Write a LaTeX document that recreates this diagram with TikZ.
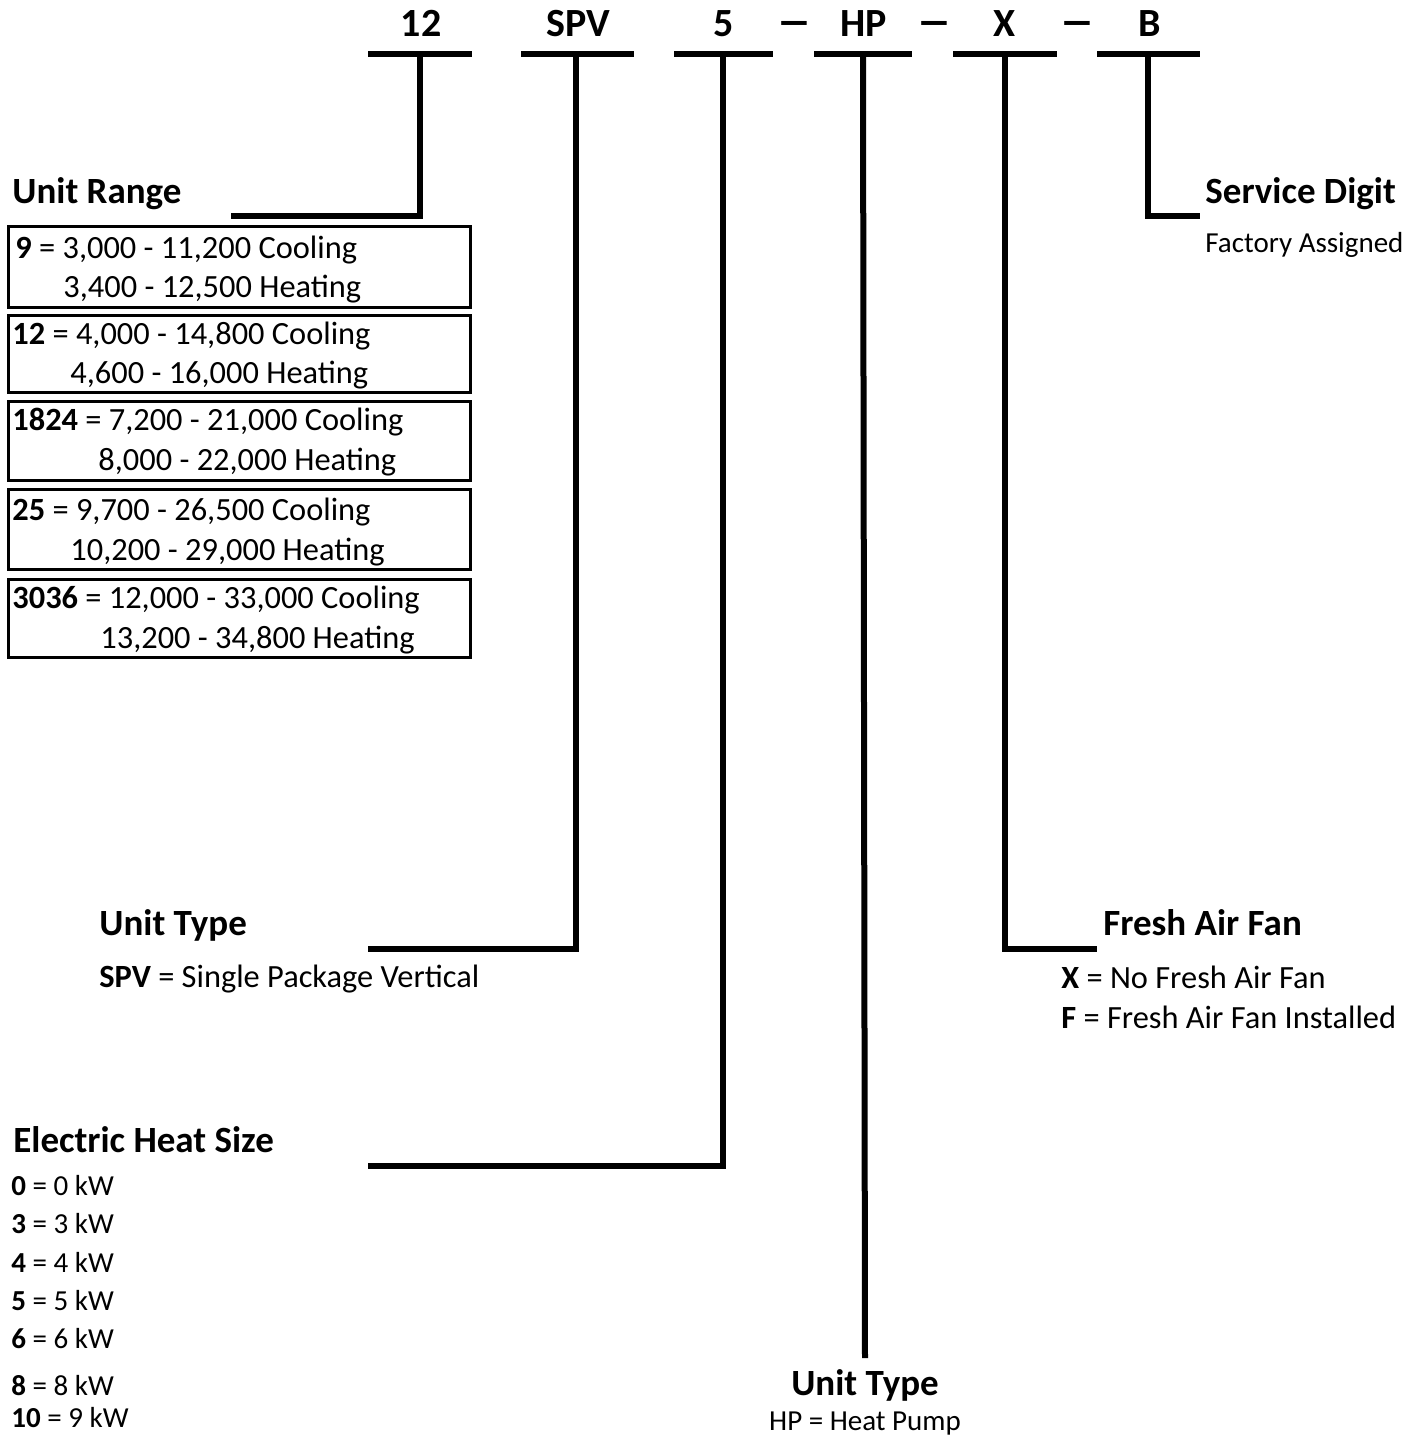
\documentclass[tikz,border=0pt]{standalone}
\usepackage{fontspec}
\setmainfont{Carlito}
\usepackage{tikz}
\usetikzlibrary{positioning}

\newcommand{\widedash}{\scalebox{1.8}[1.15]{\textendash}}

\begin{document}
\begin{tikzpicture}
   [x=0.5pt,y=-0.5pt,
    txt/.style={inner sep=0pt,anchor=base west},
    head/.style={txt,font=\fontsize{18.5}{22}\selectfont\bfseries},
    item/.style={txt,font=\fontsize{16.2}{19}\selectfont},
    small/.style={txt,font=\fontsize{14.5}{17}\selectfont},
    digit/.style={inner sep=0pt,anchor=base,font=\fontsize{20}{24}\selectfont\bfseries},
    bar/.style={line width=3pt},
    lead/.style={line width=3pt},
    rangebox/.style={line width=1.5pt}]
   \useasboundingbox (0,0) rectangle (1424,1437);

   % model number
   \node[digit] (d12) at (421,36) {12};
   \node[digit] (dspv) at (578,36) {SPV};
   \node[digit] (d5) at (724,36) {5};
   \node[digit] (dash1) at (794,36) {\widedash};
   \node[digit] (dhp) at (864,36) {HP};
   \node[digit] (dash2) at (934,36) {\widedash};
   \node[digit] (dx) at (1005,36) {X};
   \node[digit] (dash3) at (1077,36) {\widedash};
   \node[digit] (db) at (1150,36) {B};

   \draw[bar] (368,54) -- (472,54);
   \draw[bar] (521,54) -- (634,54);
   \draw[bar] (674,54) -- (773,54);
   \draw[bar] (814,54) -- (912,54);
   \draw[bar] (953,54) -- (1057,54);
   \draw[bar] (1097,54) -- (1200,54);

   \coordinate (t12) at (420,54);
   \coordinate (tspv) at (576,54);
   \coordinate (t5) at (723,54);
   \coordinate (thp) at (863,54);
   \coordinate (tx) at (1005,54);
   \coordinate (tb) at (1148,54);

   % unit range
   \node[head] (range) at (12,203) {Unit Range};
   \coordinate (e12) at (231,216);
   \draw[lead] (t12) |- (e12);

   \draw[rangebox] (8,226) rectangle (470,307);
   \node[item] (r9a) at (15,258) {\textbf{9} = 3,000 - 11,200 Cooling};
   \node[item] (r9b) at (63,297) {3,400 - 12,500 Heating};
   \draw[rangebox] (8,315) rectangle (470,392);
   \node[item] (r12a) at (12,344) {\textbf{12} = 4,000 - 14,800 Cooling};
   \node[item] (r12b) at (70,383) {4,600 - 16,000 Heating};
   \draw[rangebox] (8,401) rectangle (470,480);
   \node[item] (r18a) at (12,430) {\textbf{1824} = 7,200 - 21,000 Cooling};
   \node[item] (r18b) at (98,470) {8,000 - 22,000 Heating};
   \draw[rangebox] (8,489) rectangle (470,569);
   \node[item] (r25a) at (12,520) {\textbf{25} = 9,700 - 26,500 Cooling};
   \node[item] (r25b) at (70,560) {10,200 - 29,000 Heating};
   \draw[rangebox] (8,579) rectangle (470,657);
   \node[item] (r30a) at (12,608) {\textbf{3036} = 12,000 - 33,000 Cooling};
   \node[item] (r30b) at (100,648) {13,200 - 34,800 Heating};

   % service digit
   \node[head] (serv) at (1205,203) {Service Digit};
   \node[small] (fact) at (1205,252) {Factory Assigned};
   \coordinate (eb) at (1200,216);
   \draw[lead] (tb) |- (eb);

   % unit type
   \node[head] (utype) at (99,935) {Unit Type};
   \node[item] (spv) at (99,987) {\textbf{SPV} = Single Package Vertical};
   \coordinate (espv) at (368,949);
   \draw[lead] (tspv) |- (espv);

   % fresh air fan
   \node[head] (fan) at (1103,935) {Fresh Air Fan};
   \node[item] (fanx) at (1061,988) {\textbf{X} = No Fresh Air Fan};
   \node[item] (fanf) at (1061,1028) {\textbf{F} = Fresh Air Fan Installed};
   \coordinate (ex) at (1097,949);
   \draw[lead] (tx) |- (ex);

   % electric heat
   \node[head] (heat) at (13,1152) {Electric Heat Size};
   \node[small] (h0) at (11,1195) {\textbf{0} = 0 kW};
   \node[small] (h3) at (11,1233) {\textbf{3} = 3 kW};
   \node[small] (h4) at (11,1272) {\textbf{4} = 4 kW};
   \node[small] (h5) at (11,1310) {\textbf{5} = 5 kW};
   \node[small] (h6) at (11,1348) {\textbf{6} = 6 kW};
   \node[small] (h8) at (11,1395) {\textbf{8} = 8 kW};
   \node[small] (h10) at (11,1427) {\textbf{10} = 9 kW};
   \coordinate (e5) at (368,1166);
   \draw[lead] (t5) |- (e5);

   % heat pump
   \node[head,anchor=base] (hptype) at (865,1395) {Unit Type};
   \node[small,anchor=base] (hp) at (865,1430) {HP = Heat Pump};
   \draw[lead] (thp) -- (hptype.north |- 0,1358);
\end{tikzpicture}
\end{document}
